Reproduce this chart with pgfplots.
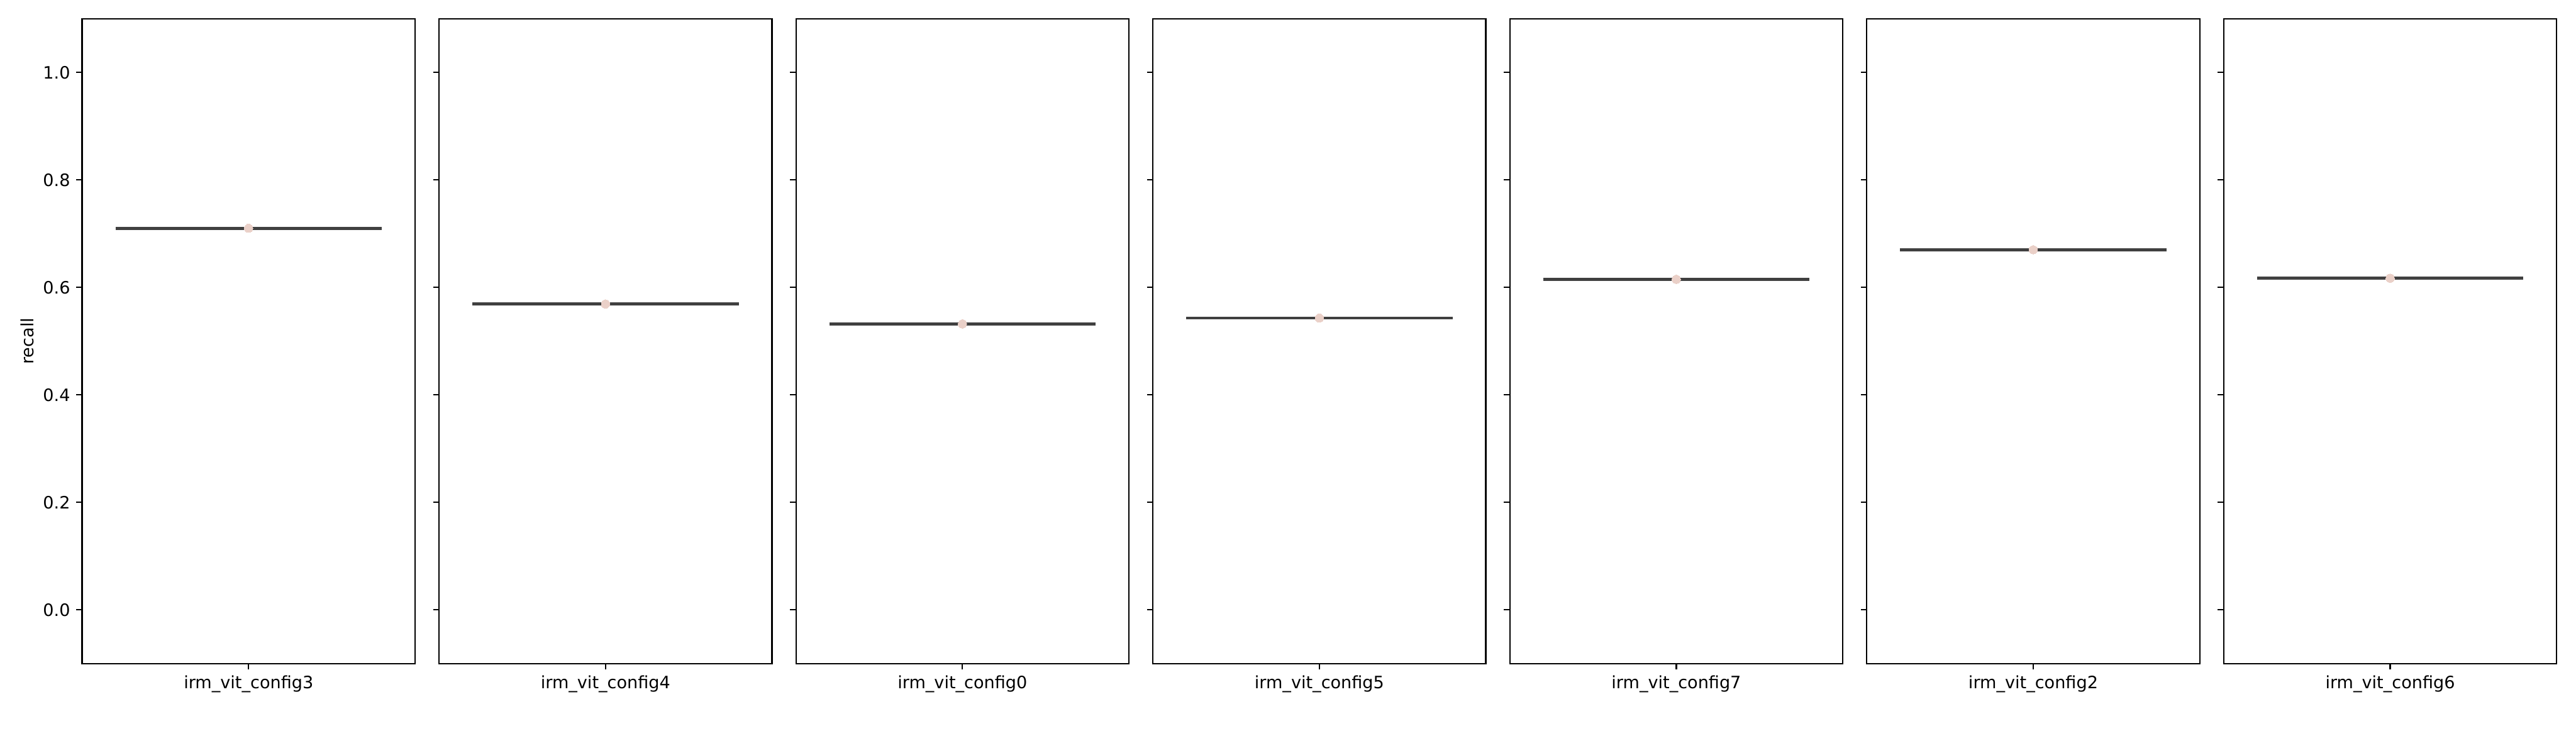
\documentclass[border=0pt]{standalone}
\usepackage{fontspec}
\setmainfont{DejaVu Sans}
\usepackage{pgfplots}
\pgfplotsset{compat=1.18}
\definecolor{linegray}{HTML}{404040}
\definecolor{ptcol}{HTML}{EAD0C8}
\pgfplotsset{panel/.style={
  scale only axis, width=195.4pt, height=378.7pt, anchor=south west,
  xmin=-0.5, xmax=0.5, ymin=-0.1, ymax=1.1,
  xtick={0}, ytick={0,0.2,0.4,0.6,0.8,1.0},
  tick align=outside, tick pos=left, major tick length=3.5pt,
  every tick/.style={black, line width=0.8pt},
  axis line style={line width=0.8pt},
  /pgf/number format/assume math mode=true,
  yticklabel style={/pgf/number format/.cd, fixed, fixed zerofill, precision=1},
  ticklabel style={font=\fontsize{10}{12}\selectfont},
  label style={font=\fontsize{10}{12}\selectfont},
  clip=false,
}}
\newcommand{\panel}[4]{%
\begin{axis}[panel, at={(#1,42.3pt)}, xticklabels={#2}, #4]
\addplot[color=linegray, line width=1.7pt] coordinates {(-0.4,#3) (0.4,#3)};
\addplot[color=ptcol, only marks, mark=*, mark size=2.5pt, mark options={fill=ptcol, draw=ptcol, line width=0pt}] coordinates {(0,#3)};
\end{axis}}
\begin{document}
\begin{tikzpicture}
\path[use as bounding box] (0,0) rectangle (1512pt,432pt);
\panel{48.2pt}{irm\_vit\_config3}{0.710}{ylabel={recall}, ylabel style={at={(axis description cs:-0.164,0.5)}, anchor=center}}
\panel{257.7pt}{irm\_vit\_config4}{0.569}{yticklabels={}}
\panel{467.2pt}{irm\_vit\_config0}{0.532}{yticklabels={}}
\panel{676.7pt}{irm\_vit\_config5}{0.543}{yticklabels={}}
\panel{886.2pt}{irm\_vit\_config7}{0.615}{yticklabels={}}
\panel{1095.7pt}{irm\_vit\_config2}{0.670}{yticklabels={}}
\panel{1305.2pt}{irm\_vit\_config6}{0.617}{yticklabels={}}
\end{tikzpicture}
\end{document}
